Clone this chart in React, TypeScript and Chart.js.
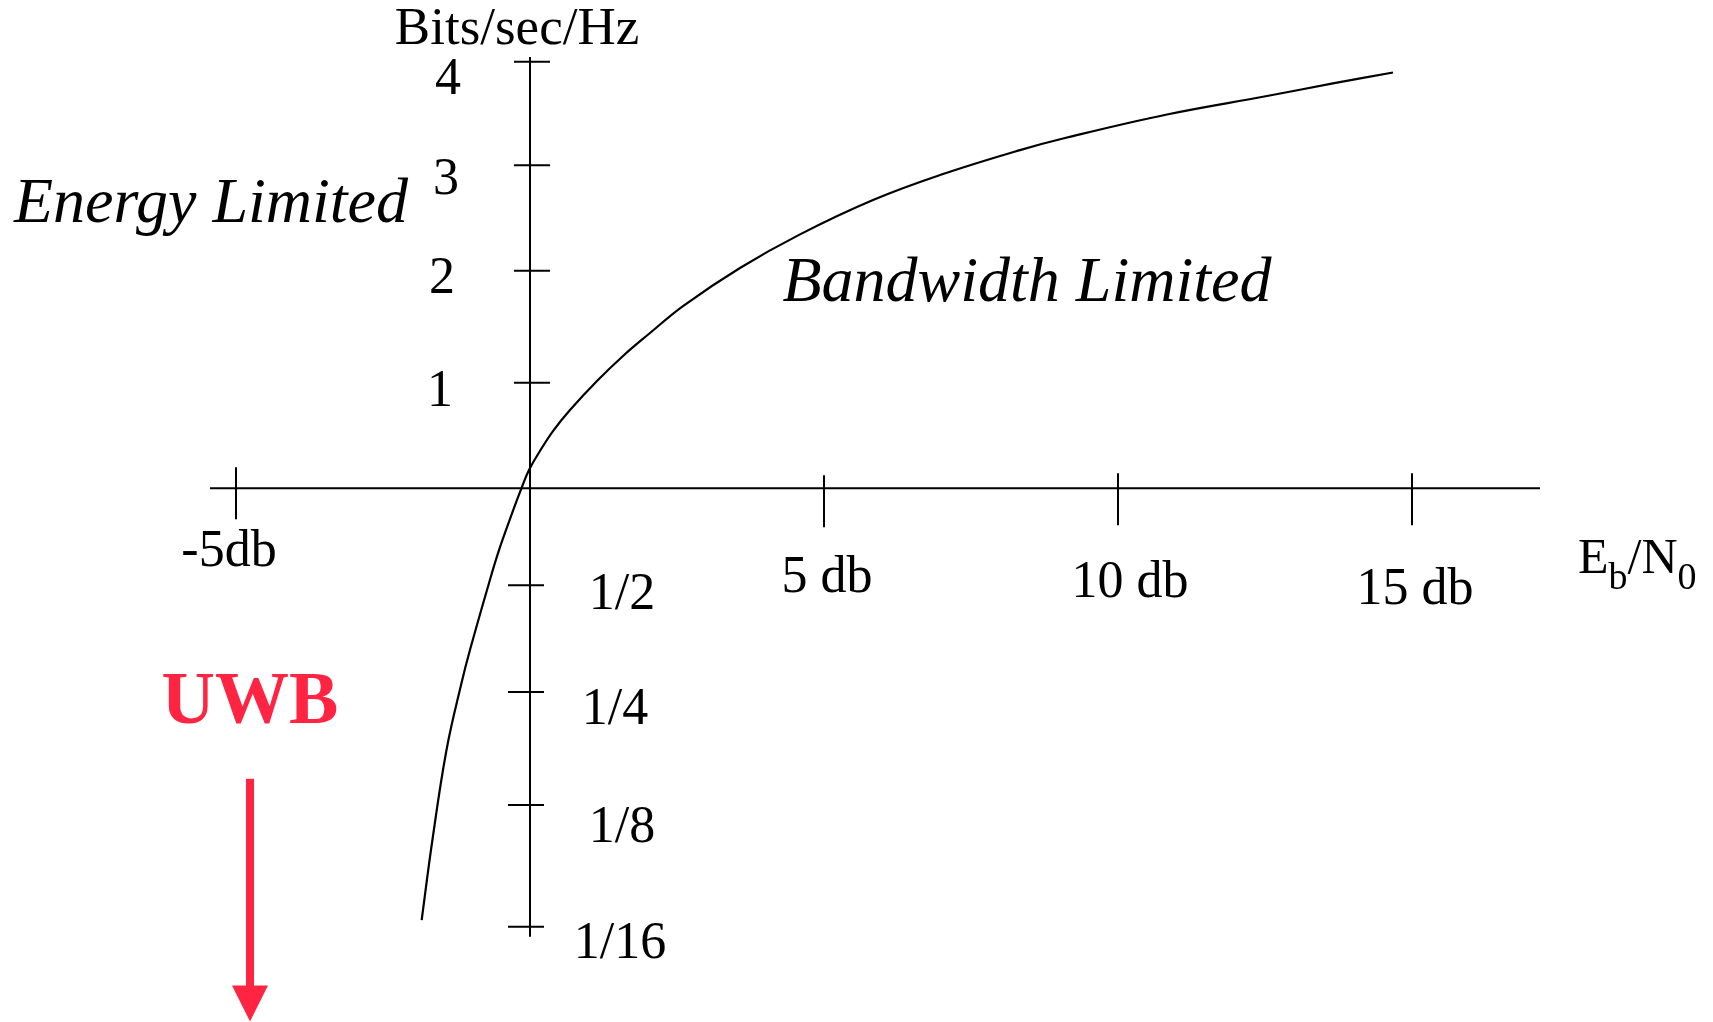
import React, { useEffect, useRef } from "react";
import { Chart, registerables } from "chart.js";

Chart.register(...registerables);

// Curve (Eb/N0 in dB, spectral efficiency in axis units)
const curveX = [-1.842, -1.667, -1.42, -1.165, -1.02, -0.697, -0.527, -0.284, -0.141, -0.017, 0.17, 0.391, 0.68, 1.139, 1.582, 2.041, 2.602, 3.571, 4.592, 5.833, 6.973, 8.333, 9.133, 10.833, 12.534, 13.656, 14.677];
const curveY = [-4.048, -3.326, -2.454, -1.826, -1.514, -0.888, -0.579, -0.203, 0.006, 0.172, 0.35, 0.537, 0.734, 1.006, 1.241, 1.456, 1.709, 2.066, 2.381, 2.703, 2.937, 3.171, 3.289, 3.505, 3.678, 3.796, 3.899];

// Axis ticks
const xTickValues = [-5, 5, 10, 15];
const xTickLabels = ["-5db", "5 db", "10 db", "15 db"];
const yTickValues = [4, 3.03, 2.04, 0.99, -0.91, -1.91, -2.97, -4.11];
const yTickLabels = ["4", "3", "2", "1", "1/2", "1/4", "1/8", "1/16"];

// Axis extents
const xAxisRange = [-5.442, 17.177];
const yAxisRange = [-4.204, 4.044];
const xView = [-9.0136, 20.119];
const yView = [-5.0042, 4.5785];

// Annotation anchors (data units)
const yTitlePos = [-0.221, 4.166];
const xTitlePos = [17.823, -0.794];
const energyPos = [-5.425, 2.497];
const bandwidthPos = [8.452, 1.752];
const uwbPos = [-4.762, -2.201];
const uwbArrow = [-4.762, -2.724, -5.0];

// Label styling offsets (pixels)
const xTickUp = [21, 13, 15, 15];
const xTickDown = [31, 39, 37, 37];
const xLabelDx = [-7, 3, 12, 3];
const xLabelDy = [78, 104, 109, 116];
const yLabelDx = [-82, -84, -88, -90, 92, 85, 92, 90];
const yLabelDy = [32, 29, 22, 23, 24, 32, 37, 31];

const SERIF = '"Liberation Serif", "Times New Roman", serif';
const RED = "#ff2442";

const overlayPlugin = {
  id: "schematicAxes",
  beforeDatasetsDraw(chart: any) {
    const ctx = chart.ctx;
    const xs = chart.scales.x;
    const ys = chart.scales.y;
    const ox = xs.getPixelForValue(0);
    const oy = ys.getPixelForValue(0);
    ctx.save();
    ctx.strokeStyle = "#000";
    ctx.lineWidth = 2;
    ctx.lineCap = "butt";
    // axes
    ctx.beginPath();
    ctx.moveTo(xs.getPixelForValue(xAxisRange[0]), oy);
    ctx.lineTo(xs.getPixelForValue(xAxisRange[1]), oy);
    ctx.moveTo(ox, ys.getPixelForValue(yAxisRange[1]));
    ctx.lineTo(ox, ys.getPixelForValue(yAxisRange[0]));
    ctx.stroke();
    // x ticks
    ctx.beginPath();
    xTickValues.forEach((v, i) => {
      const px = xs.getPixelForValue(v);
      ctx.moveTo(px, oy - xTickUp[i]);
      ctx.lineTo(px, oy + xTickDown[i]);
    });
    // y ticks
    yTickValues.forEach((v) => {
      const py = ys.getPixelForValue(v);
      if (v > 0) {
        ctx.moveTo(ox - 16, py);
        ctx.lineTo(ox + 20, py);
      } else {
        ctx.moveTo(ox - 22, py);
        ctx.lineTo(ox + 14, py);
      }
    });
    ctx.stroke();

    // tick labels
    ctx.fillStyle = "#000";
    ctx.font = `52px ${SERIF}`;
    ctx.textAlign = "center";
    ctx.textBaseline = "alphabetic";
    xTickValues.forEach((v, i) => {
      ctx.fillText(xTickLabels[i], xs.getPixelForValue(v) + xLabelDx[i], oy + xLabelDy[i]);
    });
    yTickValues.forEach((v, i) => {
      ctx.fillText(yTickLabels[i], ox + yLabelDx[i], ys.getPixelForValue(v) + yLabelDy[i]);
    });

    // axis titles
    ctx.font = `53px ${SERIF}`;
    ctx.fillText("Bits/sec/Hz", xs.getPixelForValue(yTitlePos[0]), ys.getPixelForValue(yTitlePos[1]));
    ctx.textAlign = "left";
    let tx = xs.getPixelForValue(xTitlePos[0]);
    const ty = ys.getPixelForValue(xTitlePos[1]);
    const parts: [string, boolean][] = [["E", false], ["b", true], ["/N", false], ["0", true]];
    parts.forEach(([s, sub]) => {
      ctx.font = sub ? `38px ${SERIF}` : `50px ${SERIF}`;
      ctx.fillText(s, tx, sub ? ty + 16 : ty);
      tx += ctx.measureText(s).width;
    });

    // region labels
    ctx.textAlign = "center";
    ctx.font = `italic 64px ${SERIF}`;
    ctx.fillText("Energy Limited", xs.getPixelForValue(energyPos[0]), ys.getPixelForValue(energyPos[1]));
    ctx.fillText("Bandwidth Limited", xs.getPixelForValue(bandwidthPos[0]), ys.getPixelForValue(bandwidthPos[1]));

    // UWB annotation
    ctx.fillStyle = RED;
    ctx.font = `bold 74px ${SERIF}`;
    ctx.fillText("UWB", xs.getPixelForValue(uwbPos[0]), ys.getPixelForValue(uwbPos[1]));
    const ax = xs.getPixelForValue(uwbArrow[0]);
    const ay0 = ys.getPixelForValue(uwbArrow[1]);
    const ay1 = ys.getPixelForValue(uwbArrow[2]);
    ctx.fillRect(ax - 4, ay0, 8, ay1 - ay0 - 34);
    ctx.beginPath();
    ctx.moveTo(ax - 18, ay1 - 36);
    ctx.lineTo(ax + 18, ay1 - 36);
    ctx.lineTo(ax, ay1);
    ctx.closePath();
    ctx.fill();
    ctx.restore();
  },
};

export default function App() {
  const canvasRef = useRef<HTMLCanvasElement | null>(null);

  useEffect(() => {
    if (!canvasRef.current) return;
    const data = curveX.map((x, i) => ({ x, y: curveY[i] }));
    const chart = new Chart(canvasRef.current, {
      type: "scatter",
      data: {
        datasets: [
          {
            data,
            showLine: true,
            borderColor: "#000",
            borderWidth: 2.2,
            pointRadius: 0,
            tension: 0.4,
            fill: false,
          } as any,
        ],
      },
      options: {
        animation: false,
        responsive: false,
        devicePixelRatio: 1,
        layout: { padding: 0 },
        plugins: { legend: { display: false }, tooltip: { enabled: false } },
        scales: {
          x: { type: "linear", min: xView[0], max: xView[1], display: false },
          y: { type: "linear", min: yView[0], max: yView[1], display: false },
        },
      },
      plugins: [overlayPlugin],
    });
    return () => chart.destroy();
  }, []);

  return (
    <div style={{ position: "fixed", left: 0, top: 0, width: 1713, height: 1022, background: "#fff" }}>
      <canvas ref={canvasRef} width={1713} height={1022} style={{ display: "block" }} />
    </div>
  );
}
